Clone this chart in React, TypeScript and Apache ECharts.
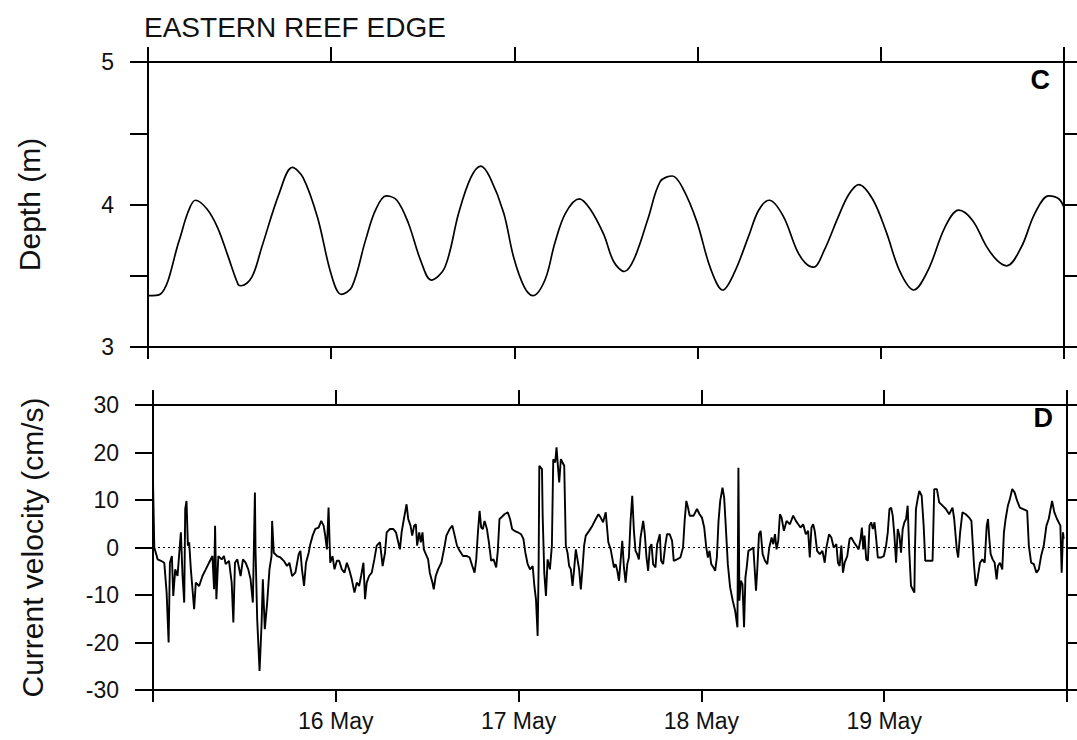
import React, { useEffect, useRef } from "react";
import * as echarts from "echarts";

// ---------- DATA (hours since 15 May 00:00) ----------
const dayLabels = ["15 May", "16 May", "17 May", "18 May", "19 May", "20 May"];
const depthTickLabels = ["3", "4", "5"];

const depthHours = [
  0, 1.6, 4.1, 5.2, 6.2, 7.7, 9.1, 10.4, 11.8, 12.2,
  13.6, 14.9, 17.2, 18.9, 20.3, 22.2, 24.0, 25.3, 26.7, 28.5,
  29.8, 31.2, 32.6, 34.1, 35.7, 37.1, 38.9, 40.7, 42.3, 43.6,
  44.8, 46.6, 47.9, 49.3, 50.4, 52.0, 53.3, 54.7, 56.5, 57.9,
  59.7, 61.0, 62.4, 63.7, 65.5, 67.1, 68.7, 70.1, 71.9, 73.7,
  75.3, 76.8, 78.7, 80.0, 81.4, 83.2, 85.0, 86.1, 87.2, 88.6,
  90.4, 91.8, 93.1, 94.9, 96.7, 98.5, 100.3, 102.2, 104.4, 106.2,
  108.0, 109.8, 111.2, 112.5, 114.4, 116.2, 118.0, 119.3, 120,
];
const depthValues = [
  3.36, 3.37, 3.75, 3.94, 4.03, 3.97, 3.84, 3.65, 3.44, 3.43,
  3.49, 3.70, 4.08, 4.26, 4.19, 3.91, 3.51, 3.37, 3.42, 3.75,
  3.96, 4.06, 4.03, 3.87, 3.61, 3.47, 3.56, 3.94, 4.19, 4.27,
  4.19, 3.94, 3.63, 3.42, 3.36, 3.47, 3.73, 3.94, 4.04, 3.97,
  3.79, 3.60, 3.53, 3.62, 3.90, 4.16, 4.20, 4.11, 3.88, 3.55,
  3.40, 3.52, 3.78, 3.96, 4.03, 3.92, 3.68, 3.59, 3.56, 3.68,
  3.91, 4.07, 4.14, 4.04, 3.81, 3.53, 3.40, 3.54, 3.84, 3.96,
  3.89, 3.71, 3.61, 3.57, 3.70, 3.94, 4.06, 4.04, 3.98,
];

// current velocity, [hour, cm/s]
const velocity15May: [number, number][] = [
  [0, 14], [0.17, 0], [0.61, -2.5], [1.05, -2.8], [1.48, -3.2], [1.79, -9.5], [2.05, -20], [2.22, -3.2],
  [2.48, -1.8], [2.66, -10.2], [2.92, -4.6], [3.22, -6.0], [3.66, 3.2], [3.88, -6.0], [4.10, -11.6],
  [4.23, 8.1], [4.40, 9.8], [4.58, 0.4], [4.75, 1.1], [4.97, -4.6], [5.40, -13.0], [5.62, -7.4],
  [6.06, -8.1], [6.49, -6.0], [6.93, -4.6], [7.36, -3.2], [7.80, -1.8], [8.02, -8.8], [8.15, 4.6],
  [8.32, -10.9], [8.58, -1.8], [9.02, -2.5], [9.32, -1.8], [9.54, -3.5], [9.98, -2.8], [10.33, -7.4],
  [10.55, -15.8], [10.76, -3.2], [11.07, -2.5], [11.50, -6.0], [11.81, -2.5], [12.16, -3.2], [12.51, -4.6],
  [12.81, -6.7], [13.11, -11.6], [13.38, 11.6], [13.46, -0.4], [13.68, -15.1], [13.99, -26], [14.25, -16.3],
  [14.42, -6.7], [14.68, -17.2], [14.99, -11.6], [15.29, -4.6], [15.56, -1.8], [15.64, 5.6], [15.86, -1.1],
  [16.30, -1.8], [16.73, -2.1], [17.17, -2.8], [17.60, -3.9], [17.91, -3.2], [18.26, -6.0], [18.69, -5.3],
  [19.13, -1.4], [19.35, -0.7], [19.56, -4.6], [19.83, -8.1], [20.09, -3.2], [20.44, -1.1], [20.65, 0.7],
  [20.96, 2.5], [21.31, 3.9], [21.74, 4.2], [22.09, 5.6], [22.40, 4.6], [22.61, 2.5], [22.83, -0.4],
  [23.05, 8.4], [23.27, -3.2], [23.57, -1.8], [23.83, -4.6],
];
const velocity16May: [number, number][] = [
  [24.14, -2.8], [24.44, -2.8], [24.79, -4.6], [25.14, -5.3], [25.45, -3.2], [25.75, -4.6], [26.10, -6.7],
  [26.45, -9.5], [26.75, -7.4], [27.06, -8.1], [27.32, -6.0], [27.63, -3.2], [27.84, -10.9], [28.06, -7.4],
  [28.37, -6.0], [28.72, -5.3], [29.06, -2.5], [29.37, 0.4], [29.80, 1.1], [30.15, -3.9], [30.46, -1.1],
  [30.68, 3.2], [31.11, 3.9], [31.55, 3.9], [31.90, 3.2], [32.20, 1.1], [32.42, -0.4], [32.64, 3.2],
  [32.94, 6.0], [33.29, 9.1], [33.51, 6.0], [33.81, 4.6], [34.03, 2.5], [34.29, 4.6], [34.51, 4.9],
  [34.68, 0.4], [34.95, 3.2], [35.16, 1.1], [35.38, 3.2], [35.56, -0.4], [35.82, -1.4], [36.12, -2.5],
  [36.34, -5.3], [36.69, -7.4], [36.86, -8.8], [37.12, -6.0], [37.43, -4.6], [37.86, -3.2], [38.30, 0.4],
  [38.52, 2.5], [38.95, 3.9], [39.30, 4.6], [39.61, 2.5], [39.91, 0.4], [40.26, -0.7], [40.70, -1.8],
  [41.22, -1.8], [41.57, -2.1], [41.92, -3.9], [42.22, -5.3], [42.44, -2.5], [42.66, 3.2], [42.88, 7.7],
  [43.09, 4.2], [43.31, 3.9], [43.53, 5.6], [43.84, 3.9], [44.10, 1.1], [44.40, -2.8], [44.71, -2.5],
  [45.06, -4.2], [45.27, -0.7], [45.49, 6.0], [45.71, 6.3], [46.14, 7.0], [46.58, 7.4], [46.88, 6.0],
  [47.15, 3.9], [47.45, 3.5], [47.89, 3.2],
];
const velocity17May: [number, number][] = [
  [48.32, 2.8], [48.63, 1.8], [48.89, -1.1], [49.19, -3.5], [49.50, -4.6], [49.85, -3.9], [50.07, -8.1],
  [50.28, -10.9], [50.50, -18.6], [50.63, -3.9], [50.72, 17.2], [51.07, 16.5], [51.16, 6.7], [51.37, -5.3],
  [51.59, -10.2], [51.81, -2.5], [52.11, -4.6], [52.37, 0.4], [52.55, 18.6], [52.81, 17.9], [52.98, 21.1],
  [53.16, 17.2], [53.33, 13.7], [53.55, 18.6], [53.77, 17.9], [53.99, 17.2], [54.20, 0.4], [54.42, -1.1],
  [54.64, -3.9], [54.86, -4.6], [55.08, -8.1], [55.29, -4.6], [55.51, -0.4], [55.73, -2.5], [55.95, -4.6],
  [56.17, -8.8], [56.38, -4.6], [56.60, 0.4], [56.82, 2.5], [57.26, 3.5], [57.69, 4.6], [58.13, 6.0],
  [58.48, 7.0], [58.78, 6.3], [59.09, 5.3], [59.44, 7.4], [59.78, 1.1], [60.09, -0.4], [60.52, -4.2],
  [60.74, -3.5], [60.96, -4.9], [61.18, -7.0], [61.39, -2.8], [61.61, 1.4], [61.83, -4.2], [62.05, -7.4],
  [62.27, -3.5], [62.48, -2.1], [62.70, 5.6], [62.92, 10.9], [63.14, 3.5], [63.35, -0.7], [63.57, -1.4],
  [63.79, -2.5], [64.01, 2.1], [64.36, 5.6], [64.57, 2.8], [64.79, -2.1], [65.01, -4.9], [65.23, 0],
  [65.45, 0.7], [65.66, -3.5], [65.97, -4.2], [66.19, 0.7], [66.54, 2.8], [66.71, -2.8], [66.97, -3.5],
  [67.28, 0.7], [67.49, 2.8], [67.84, 2.8], [68.15, 1.4], [68.37, -2.8], [68.80, -2.5], [69.24, -2.1],
  [69.59, 0], [69.80, 5.6], [70.02, 9.8], [70.24, 8.4], [70.46, 6.7], [70.98, 6.7], [71.42, 8.1],
];
const velocity18May: [number, number][] = [
  [71.76, 7.0], [72.07, 6.3], [72.37, 4.2], [72.64, 0], [72.85, -2.1], [73.07, -0.7], [73.29, -3.5],
  [73.59, -4.2], [73.81, -4.9], [74.03, -2.1], [74.25, 5.6], [74.47, 9.8], [74.77, 12.6], [74.99, 10.5],
  [75.21, 4.2], [75.47, -3.5], [75.77, -8.4], [76.12, -11.2], [76.43, -13.3], [76.73, -16.8], [76.86, 16.8],
  [76.99, -11.2], [77.17, -7.0], [77.39, -7.7], [77.60, -16.8], [77.78, -6.3], [77.95, -4.2], [78.17, -0.7],
  [78.48, -0.4], [78.82, 0], [79.17, -9.1], [79.35, -4.2], [79.56, 2.8], [79.78, 3.5], [80.04, -1.4],
  [80.35, -2.8], [80.65, -3.5], [80.91, 0], [81.22, 2.1], [81.44, 0.7], [81.66, 2.8], [81.87, -0.4],
  [82.09, 1.4], [82.31, 7.0], [82.53, 6.3], [82.83, 3.5], [83.18, 5.6], [83.62, 4.9], [84.05, 6.7],
  [84.40, 5.6], [84.71, 4.9], [85.01, 4.2], [85.36, 4.9], [85.71, 2.8], [86.01, 3.5], [86.23, -2.1],
  [86.45, 4.2], [86.67, 4.9], [86.88, 3.5], [87.19, -0.7], [87.54, -1.4], [87.89, -0.7], [88.19, -3.2],
  [88.41, 0], [88.76, 2.8], [89.06, 2.1], [89.37, 0], [89.72, 0.7], [89.93, -3.2], [90.15, -3.9],
  [90.37, 0.4], [90.59, -5.3], [90.81, -3.2], [91.15, -1.8], [91.46, 1.8], [91.68, 2.1], [92.03, 1.1],
  [92.33, 0.4], [92.64, -0.4], [92.90, 1.8], [93.07, 4.2], [93.25, -0.4], [93.42, 2.5], [93.64, -2.5],
  [93.86, -2.8], [94.07, 4.6], [94.29, 5.3], [94.51, 3.9], [94.73, 5.3], [94.95, 1.8], [95.16, -2.1],
];
const velocity19May: [number, number][] = [
  [95.60, -2.1], [95.95, -1.8], [96.25, 0.4], [96.47, 3.2], [96.69, 8.1], [96.91, 8.4], [97.12, 6.7],
  [97.34, 2.5], [97.56, -3.2], [97.78, 3.9], [98.00, 2.5], [98.21, -1.1], [98.43, 3.9], [98.65, 5.3],
  [98.87, 6.0], [99.08, 8.8], [99.30, -1.1], [99.52, -8.1], [99.74, -8.8], [99.96, -9.5], [100.04, -0.4],
  [100.17, 8.1], [100.39, 10.2], [100.61, 11.9], [100.92, 10.9], [101.18, 4.6], [101.39, -2.8], [101.92, -2.8],
  [102.35, -2.8], [102.57, 12.3], [102.92, 12.3], [103.22, 9.5], [103.66, 8.8], [104.10, 8.1], [104.53, 7.0],
  [104.97, 8.4], [105.19, 6.0], [105.53, -0.4], [105.71, -2.1], [105.97, 3.2], [106.27, 7.4], [106.71, 7.0],
  [107.15, 6.3], [107.45, 5.6], [107.80, -3.9], [108.02, -8.1], [108.24, -6.7], [108.58, -3.2], [108.89, -2.5],
  [109.19, -3.2], [109.46, 4.6], [109.63, 6.0], [109.80, 1.8], [109.98, -1.4], [110.24, -2.5], [110.50, -3.2],
  [110.76, -6.7], [110.94, -3.9], [111.20, -3.2], [111.50, -4.6], [111.72, 3.2], [111.94, 6.0], [112.24, 8.8],
  [112.50, 10.2], [112.81, 12.3], [113.12, 11.6], [113.46, 9.8], [113.81, 8.4], [114.25, 8.1], [114.77, 7.7],
  [114.99, 0.4], [115.29, -3.2], [115.64, -3.5], [115.99, -5.3], [116.30, -4.6], [116.60, -1.8], [116.95, 0.4],
  [117.30, 4.6], [117.60, 6.0], [118.04, 9.8], [118.34, 7.4], [118.69, 6.0], [118.91, 5.3], [119.13, 4.6],
  [119.30, -5.3], [119.48, 3.2], [119.56, 1.8],
];

const FONT = "'Liberation Sans', Arial, Helvetica, sans-serif";
const INK = "#000";

function makeX(gridIndex: number, position: "top" | "bottom", tickLen: number, showLabels: boolean) {
  return {
    type: "value",
    gridIndex,
    position,
    min: 0,
    max: 120,
    interval: 24,
    axisLine: { show: true, onZero: false, lineStyle: { color: INK, width: 2 } },
    axisTick: { show: true, inside: false, length: tickLen, lineStyle: { color: INK, width: 2 } },
    axisLabel: {
      show: showLabels,
      margin: 19,
      fontSize: 23,
      color: "#111",
      fontFamily: FONT,
      formatter: (v: number) => (v > 0 && v < 120 ? dayLabels[Math.round(v / 24)] : ""),
    },
    splitLine: { show: false },
  };
}

export default function App() {
  const ref = useRef<HTMLDivElement>(null);
  useEffect(() => {
    if (!ref.current) return;
    const chart = echarts.init(ref.current, undefined, { renderer: "svg" });
    const depthData = depthHours
      .slice(0, Math.min(depthHours.length, depthValues.length))
      .map((h, i) => [h, depthValues[i]]);
    const velData = [...velocity15May, ...velocity16May, ...velocity17May, ...velocity18May, ...velocity19May];

    const yCommon = {
      type: "value",
      axisLine: { show: true, onZero: false, lineStyle: { color: INK, width: 2 } },
      splitLine: { show: false },
    };

    chart.setOption({
      animation: false,
      backgroundColor: "#ffffff",
      textStyle: { fontFamily: FONT },
      grid: [
        { left: 148, right: 13, top: 62, height: 285 },
        { left: 153, right: 10, top: 405, height: 285 },
      ],
      xAxis: [
        makeX(0, "bottom", 12, false),
        makeX(0, "top", 15, false),
        makeX(1, "bottom", 12, true),
        makeX(1, "top", 15, false),
      ],
      yAxis: [
        {
          ...yCommon,
          gridIndex: 0,
          position: "left",
          min: 3,
          max: 5,
          interval: 0.5,
          name: "Depth (m)",
          nameLocation: "middle",
          nameGap: 104,
          nameTextStyle: { fontSize: 30, color: "#111", fontFamily: FONT },
          axisTick: { show: true, inside: false, length: 18, lineStyle: { color: INK, width: 2 } },
          axisLabel: {
            margin: 34,
            fontSize: 23,
            color: "#111",
            fontFamily: FONT,
            formatter: (v: number) => (Number.isInteger(v) ? depthTickLabels[v - 3] : ""),
          },
        },
        {
          ...yCommon,
          gridIndex: 0,
          position: "right",
          min: 3,
          max: 5,
          interval: 0.5,
          axisTick: { show: true, inside: false, length: 13, lineStyle: { color: INK, width: 2 } },
          axisLabel: { show: false },
        },
        {
          ...yCommon,
          gridIndex: 1,
          position: "left",
          min: -30,
          max: 30,
          interval: 10,
          name: "Current velocity (cm/s)",
          nameLocation: "middle",
          nameGap: 106,
          nameTextStyle: { fontSize: 30, color: "#111", fontFamily: FONT },
          axisTick: { show: true, inside: false, length: 18, lineStyle: { color: INK, width: 2 } },
          axisLabel: { margin: 34, fontSize: 23, color: "#111", fontFamily: FONT },
        },
        {
          ...yCommon,
          gridIndex: 1,
          position: "right",
          min: -30,
          max: 30,
          interval: 10,
          axisTick: { show: true, inside: false, length: 13, lineStyle: { color: INK, width: 2 } },
          axisLabel: { show: false },
        },
      ],
      series: [
        {
          type: "line",
          xAxisIndex: 0,
          yAxisIndex: 0,
          data: depthData,
          showSymbol: false,
          smooth: 0.35,
          lineStyle: { color: INK, width: 1.7 },
          silent: true,
        },
        {
          type: "line",
          xAxisIndex: 2,
          yAxisIndex: 2,
          data: velData,
          showSymbol: false,
          lineStyle: { color: INK, width: 1.9 },
          silent: true,
          markLine: {
            silent: true,
            symbol: ["none", "none"],
            label: { show: false },
            lineStyle: { color: INK, width: 1.2, type: [2, 3] },
            data: [{ yAxis: 0 }],
          },
        },
      ],
      graphic: [
        {
          type: "text",
          left: 144,
          top: 13,
          style: { text: "EASTERN REEF EDGE", font: `28px ${FONT}`, fill: "#111" },
        },
        {
          type: "text",
          right: 27,
          top: 66,
          style: { text: "C", font: `bold 27px ${FONT}`, fill: "#000" },
        },
        {
          type: "text",
          right: 24,
          top: 404,
          style: { text: "D", font: `bold 27px ${FONT}`, fill: "#000" },
        },
      ],
    });
    return () => chart.dispose();
  }, []);
  return (
    <div
      ref={ref}
      style={{ position: "absolute", left: 0, top: 0, width: 1077, height: 740, background: "#fff" }}
    />
  );
}
